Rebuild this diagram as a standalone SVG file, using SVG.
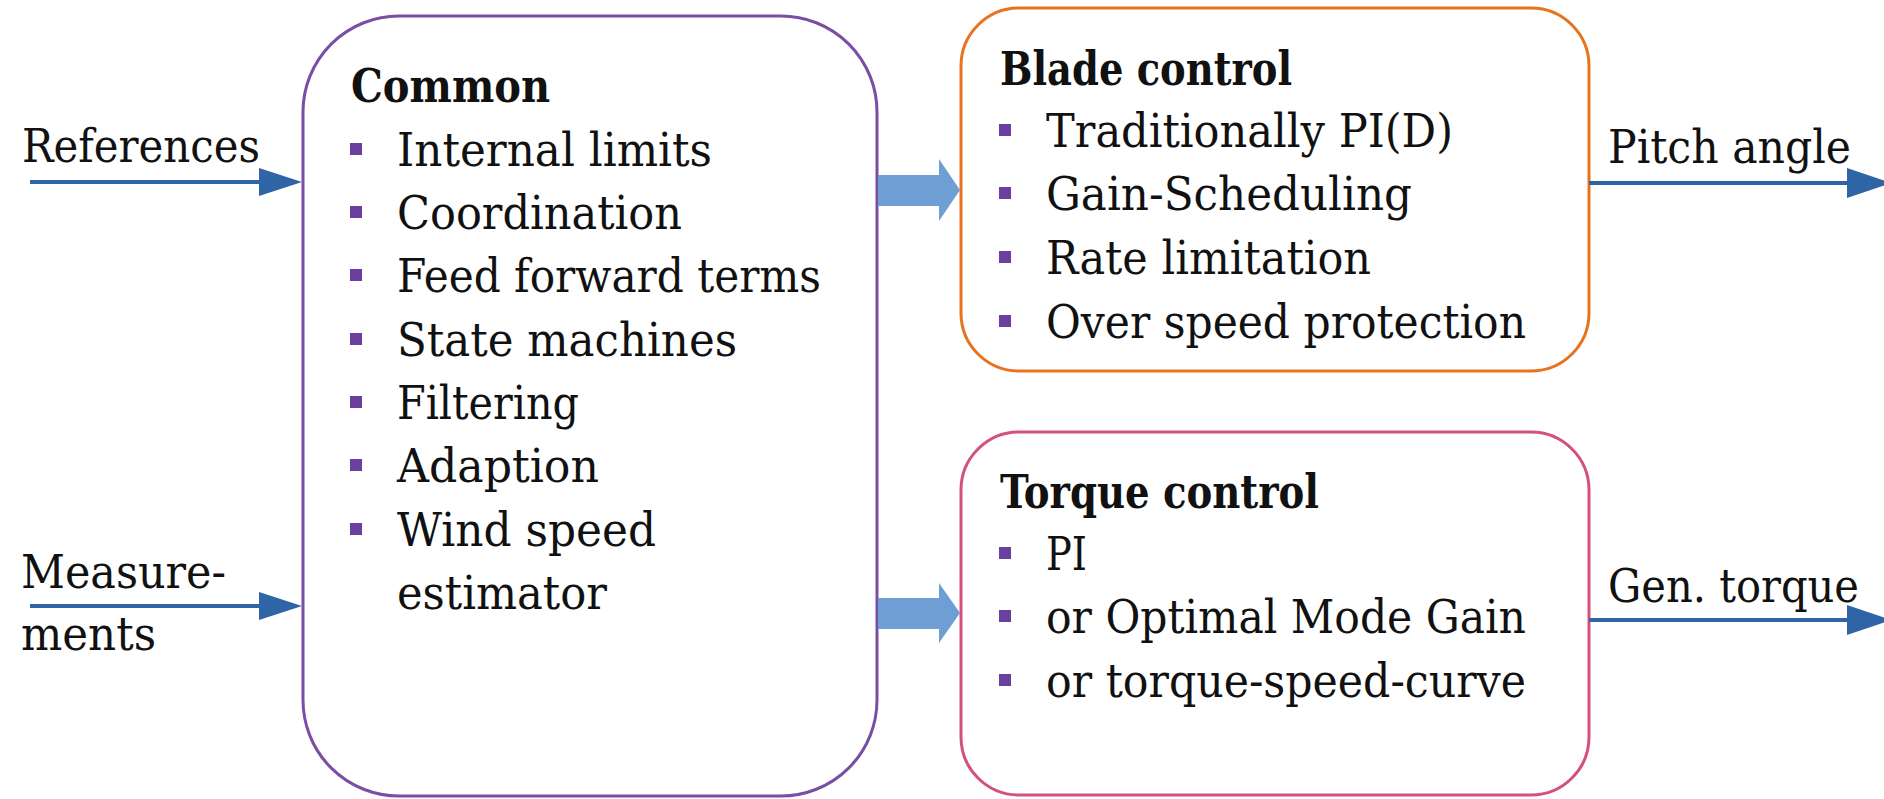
<svg xmlns="http://www.w3.org/2000/svg" width="1884" height="799" viewBox="0 0 1884 799">
  <style>
    text { font-family: "DejaVu Serif Condensed", "DejaVu Serif", "Liberation Serif", serif; font-stretch: condensed; font-size: 46px; fill: #111111; }
    .title { font-weight: bold; }
    .box { fill: #ffffff; stroke-width: 3; }
    .common { stroke: #7A4FA3; }
    .blade { stroke: #E8731E; }
    .torque { stroke: #D2517D; }
    .bullet { fill: #6B3FA0; }
    .sig { stroke: #2F64A6; stroke-width: 4; fill: none; }
    .sighead { fill: #2F64A6; }
    .flow { fill: #6E9ED3; }
  </style>

  <!-- Common control block -->
  <g id="common">
    <rect class="box common" x="303" y="16" width="574" height="780" rx="96" ry="96"/>
    <text class="title" x="351" y="102" textLength="199" lengthAdjust="spacingAndGlyphs">Common</text>
    <rect class="bullet" x="350" y="143" width="12" height="12"/>
    <text x="397" y="166" textLength="315" lengthAdjust="spacingAndGlyphs">Internal limits</text>
    <rect class="bullet" x="350" y="206" width="12" height="12"/>
    <text x="397" y="229" textLength="285" lengthAdjust="spacingAndGlyphs">Coordination</text>
    <rect class="bullet" x="350" y="269" width="12" height="12"/>
    <text x="397" y="292" textLength="424" lengthAdjust="spacingAndGlyphs">Feed forward terms</text>
    <rect class="bullet" x="350" y="333" width="12" height="12"/>
    <text x="397" y="356" textLength="340" lengthAdjust="spacingAndGlyphs">State machines</text>
    <rect class="bullet" x="350" y="396" width="12" height="12"/>
    <text x="397" y="419" textLength="182" lengthAdjust="spacingAndGlyphs">Filtering</text>
    <rect class="bullet" x="350" y="459" width="12" height="12"/>
    <text x="397" y="482" textLength="202" lengthAdjust="spacingAndGlyphs">Adaption</text>
    <rect class="bullet" x="350" y="523" width="12" height="12"/>
    <text x="397" y="546" textLength="259" lengthAdjust="spacingAndGlyphs">Wind speed</text>
    <text x="397" y="609" textLength="210" lengthAdjust="spacingAndGlyphs">estimator</text>
  </g>

  <!-- Blade control block -->
  <g id="blade">
    <rect class="box blade" x="961" y="8" width="628" height="363" rx="58" ry="58"/>
    <text class="title" x="1000" y="85" textLength="292" lengthAdjust="spacingAndGlyphs">Blade control</text>
    <rect class="bullet" x="999" y="124" width="12" height="12"/>
    <text x="1046" y="147" textLength="407" lengthAdjust="spacingAndGlyphs">Traditionally PI(D)</text>
    <rect class="bullet" x="999" y="187" width="12" height="12"/>
    <text x="1046" y="210" textLength="366" lengthAdjust="spacingAndGlyphs">Gain-Scheduling</text>
    <rect class="bullet" x="999" y="251" width="12" height="12"/>
    <text x="1046" y="274" textLength="325" lengthAdjust="spacingAndGlyphs">Rate limitation</text>
    <rect class="bullet" x="999" y="315" width="12" height="12"/>
    <text x="1046" y="338" textLength="480" lengthAdjust="spacingAndGlyphs">Over speed protection</text>
  </g>

  <!-- Torque control block -->
  <g id="torque">
    <rect class="box torque" x="961" y="432" width="628" height="363" rx="58" ry="58"/>
    <text class="title" x="1000" y="508" textLength="319" lengthAdjust="spacingAndGlyphs">Torque control</text>
    <rect class="bullet" x="999" y="547" width="12" height="12"/>
    <text x="1046" y="570" textLength="41" lengthAdjust="spacingAndGlyphs">PI</text>
    <rect class="bullet" x="999" y="610" width="12" height="12"/>
    <text x="1046" y="633" textLength="480" lengthAdjust="spacingAndGlyphs">or Optimal Mode Gain</text>
    <rect class="bullet" x="999" y="674" width="12" height="12"/>
    <text x="1046" y="697" textLength="480" lengthAdjust="spacingAndGlyphs">or torque-speed-curve</text>
  </g>

  <!-- Signal labels -->
  <g id="labels">
    <text x="22" y="162" textLength="238" lengthAdjust="spacingAndGlyphs">References</text>
    <text x="21" y="588" textLength="205" lengthAdjust="spacingAndGlyphs">Measure-</text>
    <text x="21" y="650" textLength="135" lengthAdjust="spacingAndGlyphs">ments</text>
    <text x="1608" y="163" textLength="243" lengthAdjust="spacingAndGlyphs">Pitch angle</text>
    <text x="1608" y="602" textLength="251" lengthAdjust="spacingAndGlyphs">Gen. torque</text>
  </g>

  <!-- Connectors -->
  <g id="connectors">
    <!-- inputs -->
    <line class="sig" x1="30" y1="182" x2="262" y2="182"/>
    <polygon class="sighead" points="259,168 302,182 259,196"/>
    <line class="sig" x1="30" y1="606" x2="262" y2="606"/>
    <polygon class="sighead" points="259,592 302,606 259,620"/>
    <!-- outputs -->
    <line class="sig" x1="1589" y1="183" x2="1850" y2="183"/>
    <polygon class="sighead" points="1847,168 1891,183 1847,198"/>
    <line class="sig" x1="1589" y1="620" x2="1850" y2="620"/>
    <polygon class="sighead" points="1847,605 1891,620 1847,635"/>
    <!-- block-to-block flow arrows -->
    <polygon class="flow" points="878,175 939,175 939,159 960,190 939,221 939,206 878,206"/>
    <polygon class="flow" points="878,598 939,598 939,583 960,613 939,643 939,629 878,629"/>
  </g>
</svg>
